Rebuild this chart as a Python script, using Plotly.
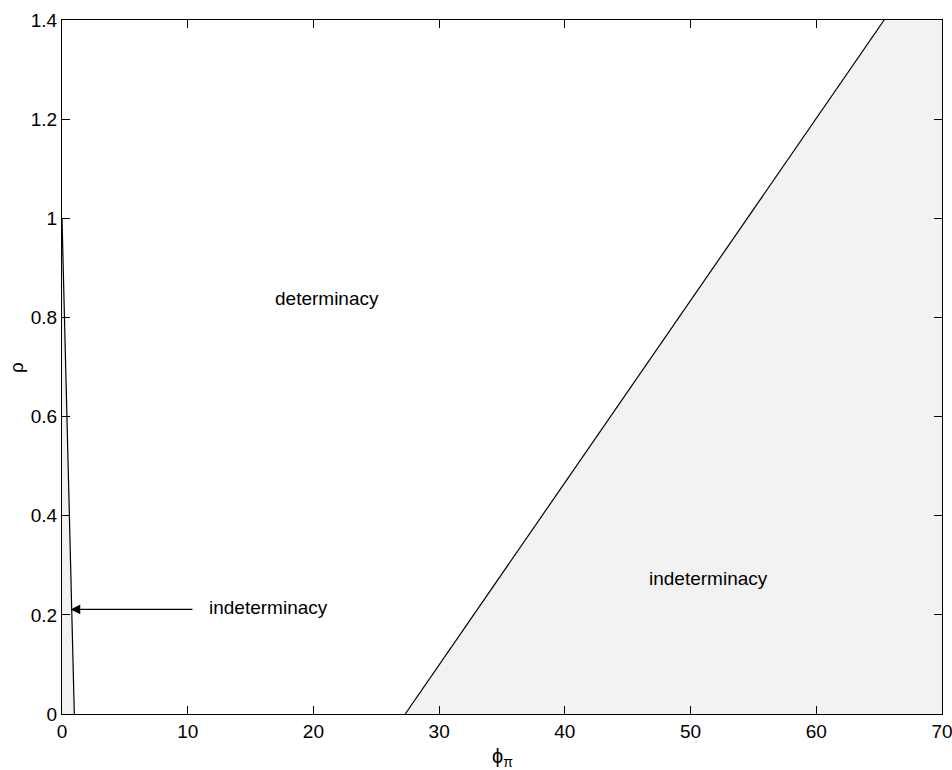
import plotly.graph_objects as go

# Boundary of the small indeterminacy region near phi_pi = 0
left_phi = [0.0, 0.98]
left_rho = [1.0, 0.0]

# Boundary of the large indeterminacy region on the right
right_phi = [27.3, 65.4]
right_rho = [0.0, 1.4]

x_range = [0, 70]
y_range = [0, 1.4]
x_ticks = [0, 10, 20, 30, 40, 50, 60, 70]
y_ticks = [0, 0.2, 0.4, 0.6, 0.8, 1, 1.2, 1.4]
y_tick_text = ["0", "0.2", "0.4", "0.6", "0.8", "1", "1.2", "1.4"]

region_labels = ["determinacy", "indeterminacy", "indeterminacy"]
label_phi = [21.1, 51.4, 16.4]
label_rho = [0.839, 0.274, 0.214]

# Arrow pointing at the narrow region
arrow_tail = (10.5, 0.211)
arrow_head = (0.69, 0.211)

fill_color = "rgb(242,242,242)"
font_family = "Liberation Sans, Arial, sans-serif"

fig = go.Figure()

# Shaded left sliver
fig.add_trace(go.Scatter(
    x=[0, left_phi[1], left_phi[0], 0],
    y=[0, left_rho[1], left_rho[0], 0],
    fill="toself", fillcolor=fill_color, mode="none",
    hoverinfo="skip", showlegend=False,
))
# Shaded right region
fig.add_trace(go.Scatter(
    x=[right_phi[0], right_phi[1], x_range[1], x_range[1], right_phi[0]],
    y=[right_rho[0], right_rho[1], y_range[1], y_range[0], right_rho[0]],
    fill="toself", fillcolor=fill_color, mode="none",
    hoverinfo="skip", showlegend=False,
))
# Boundary lines
fig.add_trace(go.Scatter(x=left_phi, y=left_rho, mode="lines",
                         line=dict(color="black", width=1.2), showlegend=False))
fig.add_trace(go.Scatter(x=right_phi, y=right_rho, mode="lines",
                         line=dict(color="black", width=1.2), showlegend=False))

annotations = []
for txt, px, py in zip(region_labels, label_phi, label_rho):
    annotations.append(dict(x=px, y=py, xref="x", yref="y", text=txt,
                            showarrow=False, xanchor="center", yanchor="middle",
                            font=dict(family=font_family, size=19, color="black")))

annotations.append(dict(
    x=arrow_head[0], y=arrow_head[1], ax=arrow_tail[0], ay=arrow_tail[1],
    xref="x", yref="y", axref="x", ayref="y", text="",
    showarrow=True, arrowhead=2, arrowsize=1.6, arrowwidth=1.2,
    arrowcolor="black",
))

# Axis titles
annotations.append(dict(x=-0.0523, y=0.5, xref="paper", yref="paper",
                        text="ρ", textangle=-90, showarrow=False,
                        xanchor="center", yanchor="middle",
                        font=dict(family=font_family, size=19, color="black")))
annotations.append(dict(x=0.5, y=-0.063, xref="paper", yref="paper",
                        text="ϕ<sub>π</sub>", showarrow=False,
                        xanchor="center", yanchor="middle",
                        font=dict(family=font_family, size=20, color="black")))

axis_common = dict(
    showgrid=False, zeroline=False, showline=True, linecolor="black",
    linewidth=1, mirror="ticks", ticks="inside", ticklen=8, tickwidth=1,
    tickcolor="black", ticklabeloverflow="allow", automargin=False,
    tickfont=dict(family=font_family, size=19, color="black"),
)

fig.update_layout(
    width=952, height=770,
    margin=dict(l=62, r=10, t=20, b=56),
    plot_bgcolor="white", paper_bgcolor="white",
    xaxis=dict(range=x_range, tickmode="array", tickvals=x_ticks,
               ticktext=[str(v) for v in x_ticks], **axis_common),
    yaxis=dict(range=y_range, tickmode="array", tickvals=y_ticks,
               ticktext=y_tick_text, **axis_common),
    annotations=annotations,
    showlegend=False,
)

fig.write_html("out.html")
